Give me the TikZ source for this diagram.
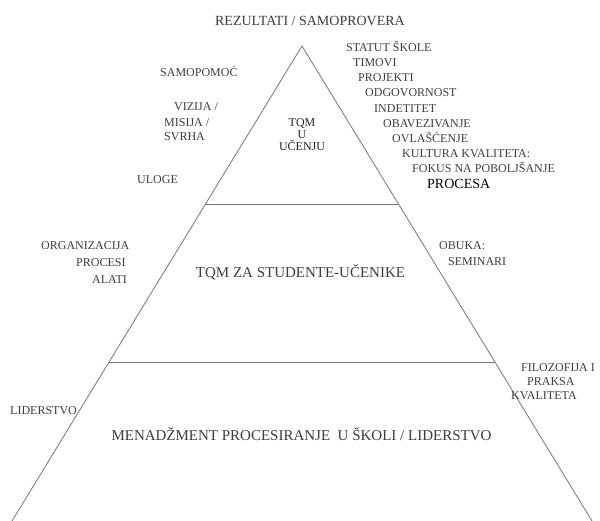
\documentclass[tikz,border=0pt]{standalone}
\usepackage{fontspec}
\setmainfont{Liberation Serif}
\usetikzlibrary{calc}

\definecolor{edgegray}{RGB}{125,115,115}
\definecolor{labelgray}{RGB}{60,60,60}

\tikzset{
    side/.style={inner sep=0pt, anchor=west, text=labelgray,
        font=\fontsize{12}{14}\selectfont, text height=8.5pt, text depth=0pt},
    level/.style={inner sep=0pt, text=labelgray, font=\fontsize{15}{17}\selectfont},
    edge/.style={draw=edgegray, line width=0.8pt}
}

\begin{document}
\begin{tikzpicture}[x=1pt,y=-1pt]
    \useasboundingbox (0,0) rectangle (600,521);

    % Pyramid
    \coordinate (apex) at (302,46);
    \coordinate (bl) at (12,521);
    \coordinate (br) at (592,521);
    \coordinate (tl) at ($(apex)!1/3!(bl)$);
    \coordinate (tr) at ($(apex)!1/3!(br)$);
    \coordinate (ml) at ($(apex)!2/3!(bl)$);
    \coordinate (mr) at ($(apex)!2/3!(br)$);
    \draw[edge] (bl) -- (apex) -- (br);
    \draw[edge] (tl) -- (tr);
    \draw[edge] (ml) -- (mr);

    % Top
    \node[level, font=\fontsize{14}{16}\selectfont] (rezultati) at (310,21) {REZULTATI / SAMOPROVERA};
    \node[inner sep=0pt, align=center, text=black!85,
          font=\fontsize{12}{12}\selectfont] (tqmu) at (302,135) {TQM\\U\\UČENJU};

    % Left of the top level
    \node[side] (samopomoc) at (160,72) {SAMOPOMOĆ};
    \node[side] (vizija) at (174,106) {VIZIJA /};
    \node[side] (misija) at (164,122) {MISIJA /};
    \node[side] (svrha) at (164,136) {SVRHA};
    \node[side] (uloge) at (137,179) {ULOGE};

    % Right of the top level
    \node[side] (statut) at (346,47) {STATUT ŠKOLE};
    \node[side] (timovi) at (353,62) {TIMOVI};
    \node[side] (projekti) at (358,77) {PROJEKTI};
    \node[side] (odgovornost) at (365,92) {ODGOVORNOST};
    \node[side] (indetitet) at (374,108) {INDETITET};
    \node[side] (obavezivanje) at (383,123) {OBAVEZIVANJE};
    \node[side] (ovlascenje) at (392,138) {OVLAŠĆENJE};
    \node[side] (kultura) at (402,153) {KULTURA KVALITETA:};
    \node[side] (fokus) at (412,168) {FOKUS NA POBOLJŠANJE};
    \node[side, text=black, font=\fontsize{14}{16}\selectfont, text height=10pt] (procesa) at (427,184) {PROCESA};

    % Middle level
    \node[level] (studenti) at (300.5,272) {TQM ZA STUDENTE-UČENIKE};
    \node[side] (organizacija) at (41,245) {ORGANIZACIJA};
    \node[side] (procesi) at (76,262) {PROCESI};
    \node[side] (alati) at (92,279) {ALATI};
    \node[side] (obuka) at (439,245) {OBUKA:};
    \node[side] (seminari) at (448,261) {SEMINARI};

    % Bottom level
    \node[level] (menadzment) at (301.5,434) {MENADŽMENT PROCESIRANJE\ \ U ŠKOLI / LIDERSTVO};
    \node[side] (liderstvo) at (10,410) {LIDERSTVO};
    \node[side] (filozofija) at (521,367) {FILOZOFIJA I};
    \node[side] (praksa) at (527,381) {PRAKSA};
    \node[side] (kvaliteta) at (511,395) {KVALITETA};
\end{tikzpicture}
\end{document}
